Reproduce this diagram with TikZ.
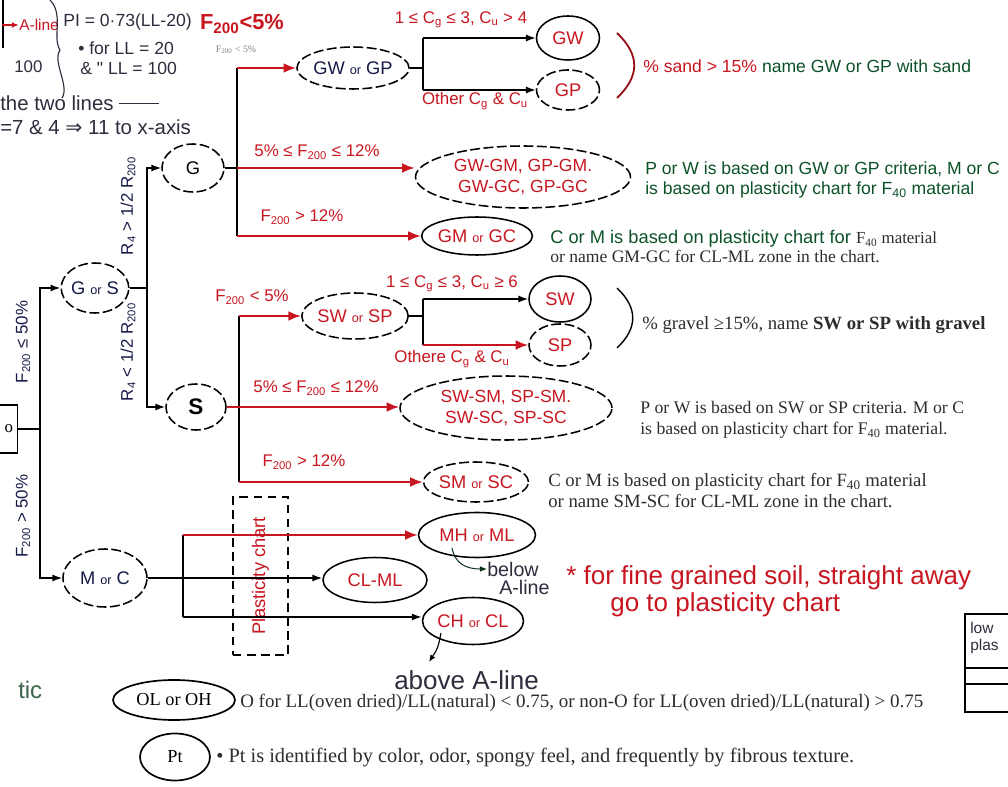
\documentclass[tikz,border=0pt]{standalone}
\usepackage{fontspec}
\setmainfont{Liberation Serif}
\newfontfamily\hand{Liberation Sans}
\newfontfamily\sym{DejaVu Sans}
\usetikzlibrary{shapes.geometric,arrows.meta}
\definecolor{hred}{RGB}{200,22,32}
\definecolor{navy}{RGB}{22,26,72}
\definecolor{hgreen}{RGB}{12,82,40}
\definecolor{pgray}{RGB}{45,45,45}
\definecolor{pencil}{RGB}{45,45,62}
\newcommand{\orw}{{\fontsize{9}{10}\selectfont or}}
\newcommand{\sub}[1]{\textsubscript{#1}}
\begin{document}
\begin{tikzpicture}[x=0.025cm,y=-0.025cm,
  every node/.style={inner sep=0pt},
  sz/.style 2 args={minimum width=#1*0.025cm,minimum height=#2*0.025cm},
  ell/.style={ellipse,draw=black,line width=1.1pt,font=\hand\fontsize{13}{15}\selectfont},
  dell/.style={ell,dash pattern=on 7pt off 2.5pt},
  lab/.style={font=\hand\fontsize{12}{14}\selectfont,text=hred},
  rot/.style={rotate=90,font=\hand\fontsize{12}{14}\selectfont,text=navy},
  note/.style={anchor=west,font=\hand\fontsize{12.5}{14.5}\selectfont,text=hgreen,align=left},
  prt/.style={anchor=west,font=\fontsize{12}{14}\selectfont,text=pgray,align=left},
  pen/.style={anchor=west,font=\hand\fontsize{12}{14}\selectfont,text=pencil},
  blk/.style={draw=black,line width=1pt},
  rarr/.style={draw=hred,line width=1.4pt,-{Latex[length=9pt,width=7pt]}},
  barr/.style={draw=black,line width=1pt,-{Latex[length=7pt,width=5pt]}}]
\useasboundingbox[fill=white] (0,0) rectangle (1008,787);

% ---------- top-left handwritten notes ----------
\coordinate (v0) at (3,0); \coordinate (v1) at (3,48);
\draw[blk] (v0) -- (v1);
\node[lab,anchor=west,font=\hand\fontsize{11}{13}\selectfont] (aline) at (19,25) {A-line};
\coordinate (al0) at (2,25);
\draw[draw=hred,line width=1pt,-{Latex[length=5pt,width=4pt]}] (al0) -- (aline.west);
\node[pen,font=\hand\fontsize{12.5}{14}\selectfont] (pi) at (63,22) {PI = 0·73(LL-20)};
\node[pen,font=\hand\fontsize{12.5}{14}\selectfont] (ll1) at (78,48) {• for LL = 20};
\node[pen,font=\hand\fontsize{12.5}{14}\selectfont] (ll2) at (80,68) {\& " LL = 100};
\node[pen] (h100) at (14,67) {100};
\node[pen,font=\hand\fontsize{14.5}{16}\selectfont] (two) at (0,103) {the two lines \rule[0.6ex]{1.0cm}{0.8pt}};
\node[pen,font=\hand\fontsize{14.5}{16}\selectfont] (xax) at (0,127) {=7 \& 4 {\sym ⇒} 11 to x-axis};
\draw[draw=pencil,line width=0.8pt] (50,0) .. controls (64,14) and (52,38) .. (60,50)
      .. controls (52,62) and (70,86) .. (62,98);
\node[lab,font=\hand\bfseries\fontsize{15.5}{17}\selectfont] (f5top) at (242,24) {F\sub{200}<5\%};
\node[font=\fontsize{7}{8}\selectfont,text=gray] (f5faint) at (236,50) {F\sub{200} < 5\%};

% ---------- root ----------
\node[draw=black,line width=1pt,anchor=east,minimum height=48*0.025cm,text width=38*0.025cm,
      align=right,inner xsep=3pt,font=\fontsize{12}{14}\selectfont] (root) at (18,429) {o};
\coordinate (j1) at (40,429);
\node[rot] (f50a) at (23,342) {F\sub{200} ≤ 50\%};
\node[rot] (f50b) at (23,516) {F\sub{200} > 50\%};

% ---------- coarse ----------
\node[dell,sz={65}{50},text=navy] (gors) at (95,288) {G \orw{} S};
\node[dell,sz={62}{48}] (g) at (193,168) {G};
\node[dell,sz={60}{46},font=\hand\bfseries\fontsize{16}{18}\selectfont] (s) at (196,407) {S};
\node[dell,sz={84}{58},text=navy] (morc) at (105,578) {M \orw{} C};
\coordinate (j2) at (147,288);
\node[rot] (r4a) at (128,206) {R\sub{4} > 1/2 R\sub{200}};
\node[rot] (r4b) at (128,352) {R\sub{4} < 1/2 R\sub{200}};

\draw[blk] (root.east) -- (j1);
\draw[barr] (j1) |- (gors.west);
\draw[barr] (j1) |- (morc.west);
\draw[blk] (gors.east) -- (j2);
\draw[barr] (j2) |- (g.west);
\draw[barr] (j2) |- (s.west);

% ---------- gravel ----------
\node[dell,sz={103}{42},text=navy] (gwgp) at (353,68) {GW \orw{} GP};
\node[ell,sz={63}{44},text=hred] (gw) at (568,38) {GW};
\node[dell,sz={63}{40},text=hred] (gp) at (568,90) {GP};
\node[dell,sz={215}{62},text=hred,align=center,font=\hand\fontsize{12.5}{15}\selectfont] (gwgm) at (523,177) {GW-GM, GP-GM.\\GW-GC, GP-GC};
\node[ell,sz={100}{38},text=hred] (gmgc) at (477,236) {GM \orw{} GC};

\coordinate (j3) at (237,168);
\coordinate (g3t) at (237,68);
\coordinate (g3b) at (237,236);
\draw[blk] (g.east) -- (j3);
\draw[blk] (g3t) -- (g3b);
\draw[rarr] (g3t) -- (gwgp.west);
\draw[rarr] (j3) -- (j3 -| gwgm.west);
\draw[rarr] (g3b) -- (gmgc.west);
\node[lab] (lg2) at (317,152) {5\% ≤ F\sub{200} ≤ 12\%};
\node[lab] (lg3) at (302,217) {F\sub{200} > 12\%};

\coordinate (j4t) at (423,38);
\coordinate (j4b) at (423,90);
\draw[blk] (gwgp.east) -- (gwgp.east -| j4t);
\draw[blk] (j4t) -- (j4b);
\draw[barr] (j4t) -- (gw.west);
\draw[barr] (j4b) -- (gp.west);
\node[lab] (lgw) at (461,20) {1 ≤ C\sub{g} ≤ 3, C\sub{u} > 4};
\node[lab] (lgp) at (475,101) {Other C\sub{g} \& C\sub{u}};

\draw[draw=hred!75!black,line width=1.3pt] (617,33) .. controls (640,55) and (640,76) .. (617,98);
\node[note] (sandnote) at (643,66) {\textcolor{hred}{\% sand > 15\%} name GW or GP with sand};
\node[note] (gwgmnote) at (645,180) {P or W is based on GW or GP criteria, M or C\\is based on plasticity chart for F\sub{40} material};
\node[note,font=\hand\fontsize{13}{15}\selectfont] (gmgcnote) at (550,239) {C or M is based on plasticity chart for {\rmfamily\color{pgray}\fontsize{12}{13}\selectfont F\sub{40} material}};
\node[prt,font=\fontsize{12.5}{14}\selectfont] (gmgcnote2) at (550,256) {or name GM-GC for CL-ML zone in the chart.};

% ---------- sand ----------
\node[dell,sz={105}{46},text=hred] (swsp) at (355,316) {SW \orw{} SP};
\node[ell,sz={62}{46},text=hred] (sw) at (560,299) {SW};
\node[dell,sz={62}{42},text=hred] (sp) at (560,345) {SP};
\node[dell,sz={212}{64},text=hred,align=center,font=\hand\fontsize{12.5}{15}\selectfont] (swsm) at (506,408) {SW-SM, SP-SM.\\SW-SC, SP-SC};
\node[dell,sz={98}{40},text=hred] (smsc) at (476,482) {SM \orw{} SC};

\coordinate (s3t) at (239,316);
\coordinate (s3b) at (239,482);
\draw[blk] (s3t) -- (s3b);
\draw[rarr] (s3t) -- (swsp.west);
\draw[rarr] (s.east) -- (s.east -| swsm.west);
\draw[rarr] (s3b) -- (smsc.west);
\node[lab] (ls1) at (252,297) {F\sub{200} < 5\%};
\node[lab] (ls2) at (316,388) {5\% ≤ F\sub{200} ≤ 12\%};
\node[lab] (ls3) at (304,462) {F\sub{200} > 12\%};

\coordinate (j5t) at (423,299);
\coordinate (j5b) at (423,345);
\draw[blk] (swsp.east) -- (swsp.east -| j5t);
\draw[blk] (j5t) -- (j5b);
\draw[barr] (j5t) -- (sw.west);
\draw[rarr] (j5b) -- (sp.west);
\node[lab] (lsw) at (452,284) {1 ≤ C\sub{g} ≤ 3, C\sub{u} ≥ 6};
\node[lab] (lsp) at (452,359) {Othere C\sub{g} \& C\sub{u}};

\draw[draw=black,line width=1pt] (617,288) .. controls (638,308) and (638,328) .. (617,348);
\node[prt,font=\fontsize{13.3}{15}\selectfont] (gravnote) at (642,325) {\% gravel ≥15\%, name \textbf{SW or SP with gravel}};
\node[prt,font=\fontsize{12.6}{15}\selectfont] (swsmnote) at (640,420) {P or W is based on SW or SP criteria. M or C\\is based on plasticity chart for F\sub{40} material.};
\node[prt,font=\fontsize{13.3}{15}\selectfont] (smscnote) at (548,491) {C or M is based on plasticity chart for F\sub{40} material\\or name SM-SC for CL-ML zone in the chart.};

% ---------- fine ----------
\node[ell,sz={117}{45},text=hred] (mhml) at (477,535) {MH \orw{} ML};
\node[ell,sz={104}{45},text=hred] (clml) at (375,580) {CL-ML};
\node[ell,sz={101}{47},text=hred] (chcl) at (473,621) {CH \orw{} CL};
\node[draw=black,line width=1.1pt,dash pattern=on 6pt off 4pt,sz={55}{158}] (pc) at (260.5,576) {};
\node[rotate=90,lab,font=\hand\fontsize{13}{15}\selectfont] (pclab) at (pc.center) {Plasticity chart};

\coordinate (j6t) at (183,535);
\coordinate (j6b) at (183,617);
\draw[barr] (morc.east) -- (morc.east -| clml.west);
\draw[blk] (j6t) -- (j6b);
\draw[rarr] (j6t) -- (mhml.west);
\draw[barr] (j6b) -- (j6b -| chcl.west);

\node[pen,font=\hand\fontsize{14}{15}\selectfont] (below) at (487,569) {below};
\node[pen,font=\hand\fontsize{14}{15}\selectfont] (aline2) at (499,587) {A-line};
\coordinate (bl0) at (452,548);
\draw[draw=hgreen!60!black,line width=0.7pt,-{Latex[length=5pt,width=4pt]}] (bl0) .. controls (455,563) and (465,569) .. (below.west);
\node[pen,font=\hand\fontsize{18.5}{20}\selectfont] (above) at (394,680) {above A-line};
\coordinate (ab0) at (441,633);
\coordinate (ab1) at (429,662);
\draw[draw=black,line width=0.8pt,-{Latex[length=5pt,width=4pt]}] (ab0) .. controls (438,648) .. (ab1);

\node[anchor=west,font=\hand\fontsize{18.5}{20}\selectfont,text=hred] (finenote) at (566,578) {* for fine grained soil, straight away};
\node[anchor=west,font=\hand\fontsize{18.5}{20}\selectfont,text=hred] (finenote2) at (610,605) {go to plasticity chart};

% ---------- organic ----------
\node[ell,line width=1.2pt,sz={122}{40},font=\fontsize{13}{14}\selectfont] (olh) at (174,700) {OL or OH};
\node[prt,font=\fontsize{13.5}{15}\selectfont] (olhnote) at (240,703) {O for LL(oven dried)/LL(natural) < 0.75, or non-O for LL(oven dried)/LL(natural) > 0.75};
\node[ell,line width=1.2pt,sz={70}{47},font=\fontsize{13}{14}\selectfont] (pt) at (175,757) {Pt};
\node[prt,font=\fontsize{14.5}{16}\selectfont] (ptnote) at (216,758) {• Pt is identified by color, odor, spongy feel, and frequently by fibrous texture.};

% ---------- edge fragments ----------
\node[pen,text=hgreen!60!gray,font=\hand\fontsize{17}{18}\selectfont] (tic) at (18,690) {tic};
\draw[line width=1pt] (1015,614) -- (965,614) -- (965,712) -- (1015,712);
\draw[line width=0.8pt] (965,668) -- (1015,668);
\draw[line width=0.8pt] (965,684) -- (1015,684);
\node[pen,font=\hand\fontsize{11}{12}\selectfont] (low) at (970,628) {low};
\node[pen,font=\hand\fontsize{11}{12}\selectfont] (plas) at (970,646) {plas};
\end{tikzpicture}
\end{document}
